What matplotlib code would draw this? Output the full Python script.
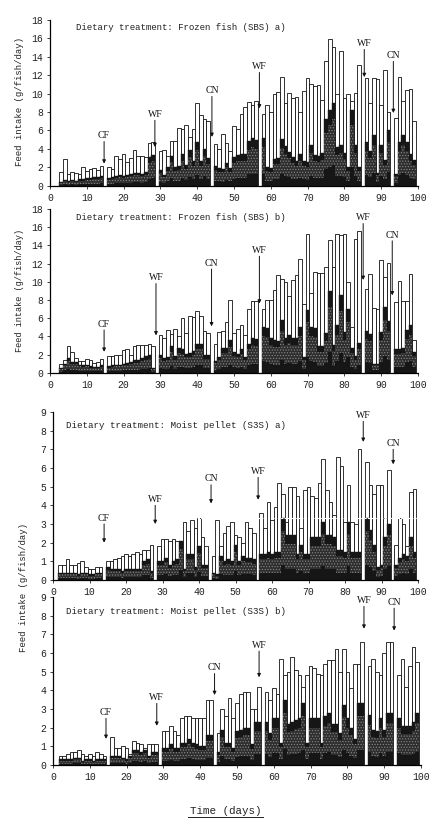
# -*- coding: utf-8 -*-
import matplotlib
matplotlib.use('Agg')
import matplotlib.pyplot as plt

W, H = 440.0, 827.0
plt.rcParams['font.family'] = ['Liberation Mono', 'DejaVu Sans Mono']
plt.rcParams['hatch.linewidth'] = 0.5

# first feeding day and days without a bar, per panel
starts = [3, 3, 2, 2]
gap_days = [[15, 29, 44, 57, 85, 93], [15, 29, 44, 57, 85, 93],
            [14, 28, 43, 56, 85, 93], [15, 29, 44, 57, 85, 93]]

# panel 1, frozen fish a)
total_1 = [1.5,2.9,1.3,1.5,1.4,1.3,2.0,1.6,1.8,1.9,1.7,2.1,
           2.0,1.8,3.2,2.9,3.4,2.6,3.0,3.9,3.2,3.2,3.1,4.6,4.7,
           3.8,3.9,3.2,4.9,4.9,6.3,6.2,6.6,5.3,6.2,9.0,7.7,7.2,7.0,
           4.5,4.0,5.6,4.6,3.8,6.5,6.2,7.8,8.6,9.1,8.8,9.2,
           7.8,8.8,8.0,10.0,10.2,11.8,9.0,10.1,9.5,9.6,8.0,10.3,11.7,11.0,10.8,10.9,9.3,13.6,15.9,15.1,10.0,14.6,9.5,10.0,9.2,10.1,13.1,
           11.7,9.0,11.7,11.6,8.8,12.6,8.0,
           7.3,11.8,9.2,10.4,10.5,7.0]
dark_1 = [0.4,0.6,0.5,0.6,0.5,0.7,0.7,0.8,0.8,0.9,0.9,1.0,
          0.8,0.9,1.0,1.2,1.1,1.2,1.3,1.4,1.4,1.3,1.5,3.1,3.3,
          1.7,1.2,2.0,3.2,2.0,2.1,3.4,2.3,3.9,2.7,4.8,2.7,4.0,3.0,
          2.1,1.9,1.8,2.5,1.9,3.1,3.3,3.4,3.4,4.9,5.2,5.0,
          5.2,2.0,1.9,2.9,3.0,5.1,4.3,3.7,3.1,2.7,3.4,2.7,2.6,4.4,3.3,3.2,3.5,7.2,8.2,9.0,4.2,4.4,3.6,2.0,8.2,4.4,2.0,
          4.7,3.8,5.5,1.4,4.4,2.8,6.0,
          1.3,4.7,5.5,4.7,3.4,2.8]

# panel 2, frozen fish b)
total_2 = [1.0,1.4,2.9,2.3,1.6,1.3,1.3,1.5,1.4,1.1,1.2,1.5,
           1.8,1.8,1.9,2.0,2.5,2.6,2.0,2.9,3.1,3.1,3.1,3.2,2.9,
           4.1,3.8,4.7,4.3,4.8,4.0,6.0,4.4,6.2,6.1,6.8,6.2,4.6,4.4,
           3.2,4.5,4.6,5.6,8.0,4.4,4.8,5.2,4.2,7.0,7.9,7.9,
           7.0,8.0,8.0,9.1,10.7,10.3,10.0,8.4,10.2,10.7,12.5,7.6,15.2,8.8,11.1,11.0,11.0,11.6,14.6,11.6,15.2,15.1,15.2,10.0,5.0,14.7,15.6,
           9.2,10.8,7.1,7.0,12.4,10.5,12.1,
           7.8,10.1,7.9,7.9,10.8,3.6]
dark_2 = [0.5,1.0,1.6,1.2,1.2,0.9,0.8,0.9,0.7,0.6,0.6,0.8,
          0.7,0.8,0.9,0.9,1.0,1.1,1.2,1.4,1.4,1.6,1.8,1.9,0.5,
          2.0,1.6,1.7,2.9,1.8,2.7,2.6,2.1,2.2,2.4,3.2,3.2,1.9,1.9,
          1.3,1.7,2.7,2.7,3.6,2.3,2.1,2.6,1.7,3.2,3.8,3.7,
          5.0,4.9,3.8,3.6,3.5,5.8,3.8,4.1,3.8,3.8,5.0,1.7,6.9,5.0,4.9,2.9,2.9,4.4,9.0,3.0,5.2,8.5,4.5,7.0,2.7,1.8,3.3,
          4.6,4.3,1.0,1.0,4.5,7.2,5.7,
          2.6,2.6,2.7,4.7,5.2,2.3]

# panel 3, moist pellet a)
total_3 = [0.8,0.8,1.1,0.8,0.8,0.9,1.0,0.7,0.6,0.6,0.7,0.7,
           1.0,1.0,1.1,1.2,1.3,1.4,1.3,1.4,1.5,1.4,1.6,1.6,1.9,
           1.8,2.2,2.2,2.1,2.2,2.1,2.1,3.1,2.6,3.2,2.8,3.3,2.3,1.8,
           1.3,3.2,1.8,2.5,2.9,3.1,2.4,2.3,2.0,3.1,2.8,2.5,
           3.6,2.8,4.2,3.2,3.9,5.2,4.6,3.1,5.0,5.0,4.5,2.8,4.8,5.0,4.5,4.4,5.2,6.5,4.8,4.2,3.5,6.6,6.1,3.1,5.1,3.1,3.0,7.0,
           6.3,5.1,4.6,5.1,5.1,3.3,5.9,
           1.9,3.3,3.0,1.8,4.7,4.9]
dark_3 = [0.4,0.4,0.4,0.4,0.4,0.3,0.4,0.4,0.3,0.3,0.4,0.4,
          0.7,0.6,0.6,0.6,0.5,0.6,0.6,0.6,0.6,0.6,1.0,1.1,0.5,
          1.0,1.0,1.2,0.8,1.0,1.1,2.1,0.6,1.4,1.4,0.7,1.8,0.8,0.8,
          0.4,0.3,1.3,1.0,1.1,1.0,1.9,1.0,1.3,1.2,1.2,1.1,
          1.4,1.4,1.5,1.4,1.5,1.5,3.3,2.4,2.4,2.4,1.4,1.9,1.4,1.4,2.3,2.3,2.3,3.1,2.4,2.4,2.3,1.6,1.6,1.5,3.1,1.5,1.5,1.5,
          3.3,2.7,1.9,0.7,0.8,2.3,3.0,
          0.8,1.2,1.4,1.3,2.3,1.5]

# panel 4, moist pellet b)
total_4 = [0.5,0.5,0.6,0.7,0.7,0.8,0.6,0.5,0.6,0.5,0.7,0.6,0.5,
           1.5,0.9,0.9,1.0,0.9,0.6,1.3,1.2,1.1,0.9,1.1,1.1,1.1,
           1.8,1.8,2.1,1.8,1.6,2.5,2.6,2.6,2.5,2.5,2.5,2.5,3.5,3.5,
           1.7,3.0,2.6,3.6,2.5,3.3,3.8,3.9,3.9,3.0,3.0,4.2,
           3.9,3.5,4.1,3.8,5.7,4.8,5.0,5.8,5.1,4.8,4.2,4.8,5.3,5.2,4.9,4.8,5.4,5.6,5.6,6.2,5.0,6.2,5.0,4.1,5.4,5.4,6.6,
           5.3,5.7,5.0,4.8,6.0,6.6,6.6,
           4.8,5.7,4.2,5.3,6.3,5.5]
dark_4 = [0.3,0.3,0.3,0.3,0.4,0.4,0.2,0.3,0.3,0.2,0.3,0.3,0.3,
          0.5,0.5,0.5,0.4,0.3,0.5,0.8,0.8,0.7,0.8,0.5,0.7,0.7,
          0.9,0.9,1.1,0.9,0.9,1.2,1.2,1.4,1.2,1.1,1.0,1.0,1.6,1.6,
          0.7,1.9,1.2,1.2,0.9,1.8,1.9,2.0,2.0,1.1,2.3,2.3,
          2.3,1.7,2.5,2.5,1.2,3.5,2.2,2.3,2.4,2.5,3.3,1.2,2.5,2.5,2.5,1.2,2.6,2.8,2.2,2.2,1.7,3.2,2.5,2.0,1.4,3.3,3.3,
          2.7,1.9,1.8,2.5,1.9,2.8,2.8,
          2.5,2.1,2.1,2.1,2.3,2.8]

titles = ['Dietary treatment: Frozen fish (SBS) a)',
          'Dietary treatment: Frozen fish (SBS) b)',
          'Dietary treatment: Moist pellet (S3S) a)',
          'Dietary treatment: Moist pellet (S3S) b)']
arrow_labels = ['CF', 'WF', 'CN', 'WF', 'WF', 'CN']
arrow_days_1 = [14.7, 28.5, 44, 56.9, 85.4, 93.3]
arrow_tops_1 = [4.8, 7.1, 9.7, 12.3, 14.8, 13.5]
arrow_tips_1 = [2.4, 4.2, 5.3, 8.4, 11.8, 7.9]
arrow_days_2 = [14.7, 28.8, 43.9, 56.9, 85.1, 93]
arrow_tops_2 = [4.7, 9.8, 11.4, 12.8, 16.4, 14.5]
arrow_tips_2 = [2.3, 4.1, 5.1, 7.6, 10.2, 8.5]
arrow_days_3 = [14, 28, 43.3, 56.2, 85, 93.2]
arrow_tops_3 = [3.0, 4.0, 5.1, 5.5, 8.5, 7.0]
arrow_tips_3 = [2.0, 3.0, 4.1, 4.3, 7.4, 6.2]
arrow_days_4 = [14.4, 28.2, 43.9, 56, 84.5, 92.7]
arrow_tops_4 = [2.5, 3.3, 4.9, 6.1, 8.5, 8.4]
arrow_tips_4 = [1.4, 2.1, 3.75, 4.7, 7.3, 7.2]

xticks = list(range(0, 101, 10))
yticks_top = list(range(0, 19, 2))
yticks_bot = list(range(0, 10))
ylabel = 'Feed intake (g/fish/day)'

# pixel boxes: left, right, bottom, top, y max
boxes = [(50, 418, 185.7, 20, 18), (50, 418, 372.7, 209, 18),
         (53, 418, 580, 412, 9), (53, 421, 765, 597, 9)]
all_total = [total_1, total_2, total_3, total_4]
all_dark = [dark_1, dark_2, dark_3, dark_4]
all_arrows = [(arrow_days_1, arrow_tops_1, arrow_tips_1), (arrow_days_2, arrow_tops_2, arrow_tips_2),
              (arrow_days_3, arrow_tops_3, arrow_tips_3), (arrow_days_4, arrow_tops_4, arrow_tips_4)]
title_px = [(76, 28), (76, 218), (66, 425), (66, 611)]
title_size = [6.5, 6.5, 6.6, 6.6]

fig = plt.figure(figsize=(W / 100, H / 100), dpi=100)

for i in range(4):
    l, r, b, t, ymax = boxes[i]
    ax = fig.add_axes([l / W, 1 - b / H, (r - l) / W, (b - t) / H])
    ax.patch.set_alpha(0)
    tot = all_total[i]
    drk = all_dark[i]
    days = [d for d in range(starts[i], 100) if d not in gap_days[i]]
    ax.bar(days, tot, width=1, color='white', edgecolor='#111111', linewidth=0.6)
    ax.bar(days, drk, width=1, color='#161616', edgecolor='#161616', linewidth=0.3)
    # speckled upper part of the dark fill
    speck = [d * 0.55 for d in drk]
    ax.bar(days, speck, bottom=[d * 0.25 for d in drk], width=1, color='#2e2e2e',
           edgecolor='#8a8a8a', linewidth=0, hatch='......')
    if i == 2:
        ax.axhline(3.3, xmin=0.36, color='white', lw=0.8, ls=(0, (2, 1)))
    ax.set_yticks(yticks_top if i < 2 else yticks_bot)
    ax.set_xticks(xticks)
    ax.set_xlim(0, 100)
    ax.set_ylim(0, ymax)
    ax.tick_params(length=2, width=0.6, pad=3, labelsize=7, colors='#222222')
    ax.spines['top'].set_visible(False)
    ax.spines['right'].set_visible(False)
    ax.spines['left'].set_linewidth(0.9)
    ax.spines['bottom'].set_linewidth(0.9)
    d_arr, tops, tips = all_arrows[i]
    for lab, d, top, tip in zip(arrow_labels, d_arr, tops, tips):
        ax.annotate('', xy=(d, tip), xytext=(d, top), annotation_clip=False,
                    arrowprops=dict(arrowstyle='-|>', color='#111111', lw=0.7, mutation_scale=5,
                                    shrinkA=0, shrinkB=0))
        ax.text(d, top + 0.008 * ymax, lab, ha='center', va='bottom', fontsize=7,
                family=['Liberation Serif'], color='#111111', clip_on=False)
    fig.text(title_px[i][0] / W, 1 - title_px[i][1] / H, titles[i], fontsize=title_size[i],
             va='center', ha='left', color='#222222')

fig.text(20 / W, 1 - 101 / H, ylabel, rotation=90, fontsize=6.5, ha='center', va='center', color='#222222')
fig.text(20 / W, 1 - 290 / H, ylabel, rotation=90, fontsize=6.2, ha='center', va='center', color='#222222')
fig.text(24 / W, 1 - 588 / H, ylabel, rotation=90, fontsize=6.5, ha='center', va='center', color='#222222')
fig.text(226 / W, 1 - 811 / H, 'Time (days)', fontsize=7.8, ha='center', va='center', color='#222222')
fig.add_artist(plt.Line2D([188 / W, 263 / W], [1 - 817 / H, 1 - 817 / H], color='#222222', lw=0.7))

fig.savefig('out.png', dpi=100)
